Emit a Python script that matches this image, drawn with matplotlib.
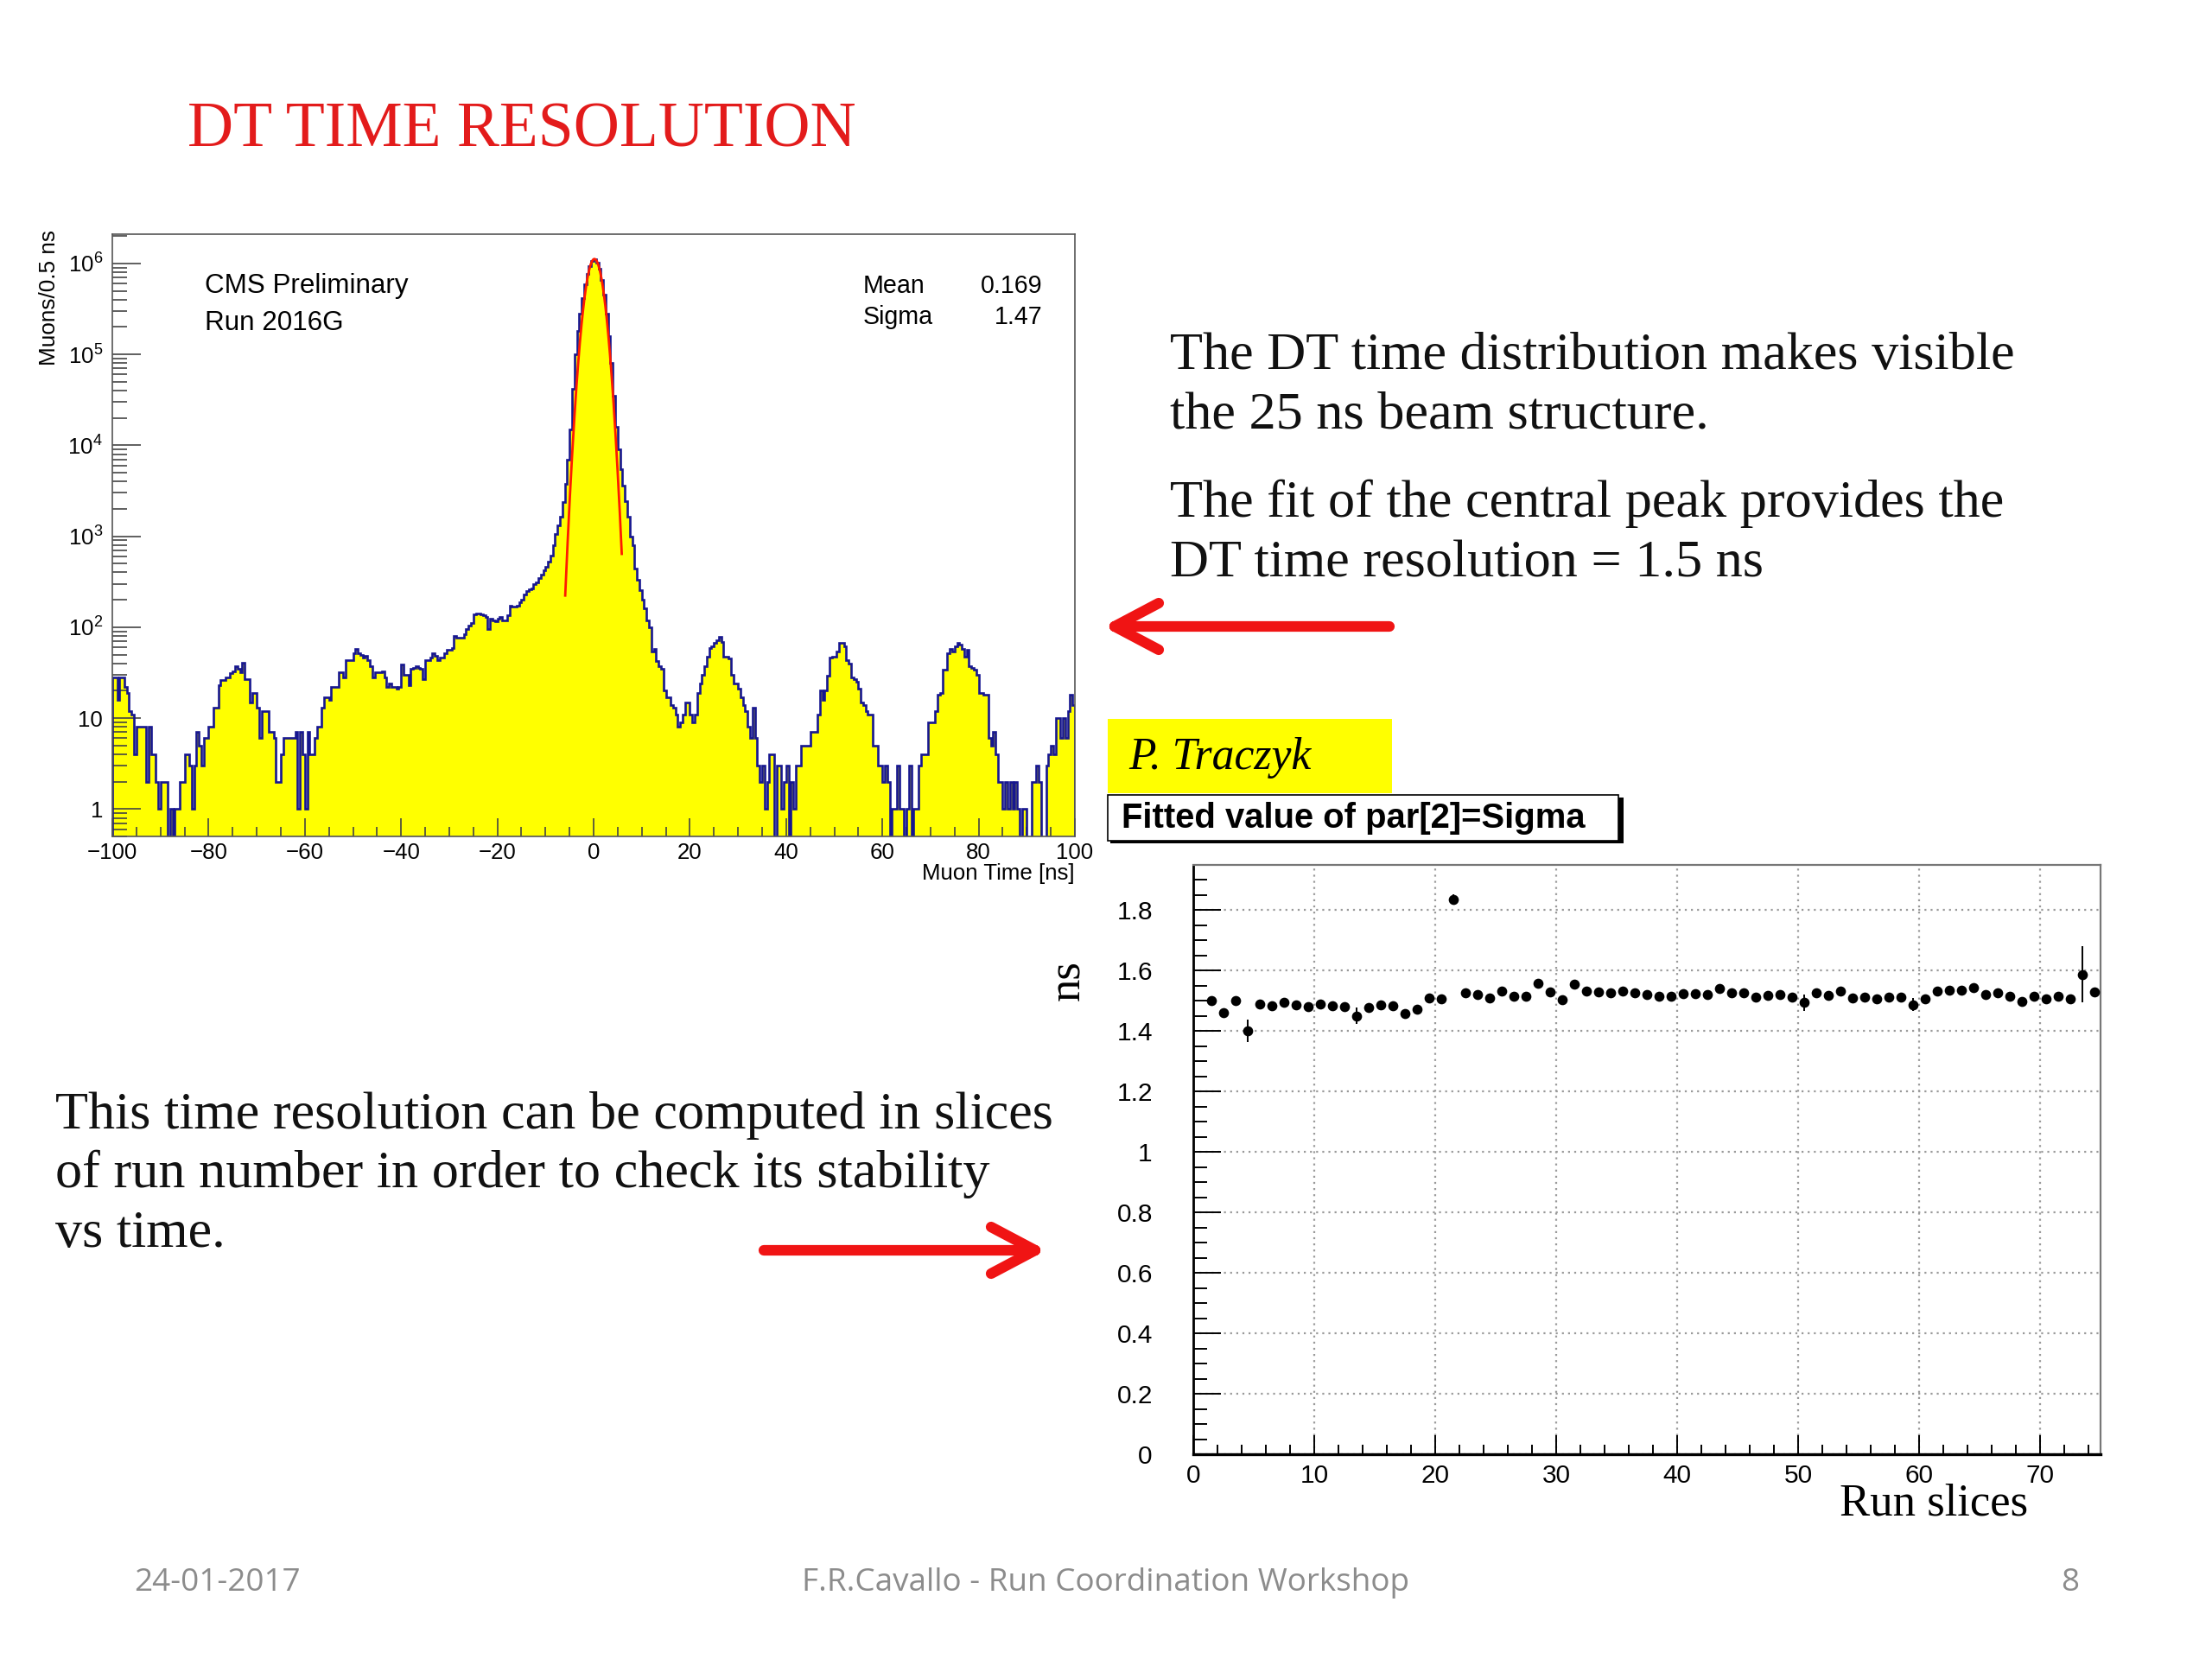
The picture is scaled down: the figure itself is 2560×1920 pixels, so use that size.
import numpy as np
import matplotlib
matplotlib.use("Agg")
import matplotlib.pyplot as plt
from matplotlib.ticker import (FixedLocator, FixedFormatter, NullFormatter,
                               MultipleLocator, FuncFormatter, LogLocator)
from matplotlib.patches import Rectangle
from matplotlib.lines import Line2D

plt.rcParams['font.family'] = ['Liberation Sans', 'DejaVu Sans']
plt.rcParams['mathtext.fontset'] = 'custom'
plt.rcParams['mathtext.rm'] = 'Liberation Sans'
plt.rcParams['mathtext.it'] = 'Liberation Sans:italic'

# ---------------- data ----------------
hist_range = (-100.0, 100.0)          # Muon Time [ns], 0.5 ns bins
muon_counts = [
    # -100 .. -47.5
    28, 28, 16, 28, 28, 22, 19, 12, 11, 4,
    8, 8, 8, 8, 2, 8, 4, 4, 2, 1,
    2, 2, 2, 0, 1, 0, 1, 1, 2, 2,
    4, 4, 3, 1, 3, 7, 5, 3, 6, 6,
    8, 8, 13, 13, 23, 26, 26, 28, 28, 31,
    33, 37, 35, 32, 41, 27, 27, 15, 19, 19,
    13, 6, 12, 12, 12, 7, 7, 6, 2, 2,
    4, 6, 6, 6, 6, 6, 7, 1, 7, 4,
    1, 7, 4, 4, 6, 8, 8, 13, 17, 17,
    16, 22, 22, 22, 32, 32, 28, 43, 43, 43,
    52, 58, 52, 50, 46, 48,
    # -47 .. -6.5
    43, 37, 28, 32,
    32, 32, 33, 28, 22, 24, 22, 22, 21, 22,
    39, 30, 30, 23, 35, 36, 37, 36, 35, 27,
    43, 43, 46, 52, 48, 43, 46, 46, 52, 57,
    57, 59, 80, 77, 77, 77, 83, 96, 103, 111,
    139, 143, 143, 139, 134, 130, 96, 124, 120, 116,
    124, 130, 120, 120, 134, 172, 167, 167, 172, 186,
    200, 230, 250, 260, 265, 296, 310, 345, 380, 425,
    460, 530, 610, 790, 1060, 1320, 1650, 2400,
    # -6 .. 6
    3800, 7000,
    15000, 42000, 100000, 180000, 280000, 420000, 590000, 760000, 930000, 1070000,
    1120000, 1020000, 870000, 660000, 450000, 280000, 160000, 80000, 35000, 16000,
    9000, 5500, 3600,
    # 6.5 .. 53.5
    2450, 1650, 1000, 800, 445, 330, 257,
    200, 162, 120, 100, 54, 58, 42, 37, 35, 20,
    17, 17, 14, 13, 11, 8, 9, 11, 15, 15,
    11, 9, 11, 19, 24, 30, 37, 47, 59, 62,
    67, 72, 79, 69, 47, 47, 45, 30, 24, 24,
    21, 17, 14, 12, 8, 6, 13, 6, 3, 2,
    3, 1, 2, 4, 4, 0, 3, 3, 1, 2,
    3, 0, 2, 1, 3, 3, 5, 5, 5, 5,
    7, 7, 7, 11, 20, 16, 20, 29, 46, 47,
    47, 54, 67, 67, 62, 43, 40, 28,
    # 54 .. 99.5
    27, 25,
    21, 15, 14, 12, 11, 11, 5, 5, 3, 3,
    2, 3, 2, 0, 1, 1, 3, 1, 1, 0,
    1, 3, 0, 1, 1, 3, 4, 4, 4, 9,
    9, 9, 12, 18, 19, 34, 34, 52, 58, 54,
    62, 67, 65, 58, 47, 56, 37, 36, 34, 30,
    19, 19, 18, 18, 6, 5, 7, 4, 2, 2,
    1, 2, 1, 2, 1, 2, 1, 0, 1, 1,
    0, 0, 2, 2, 3, 2, 0, 0, 3, 4,
    5, 4, 10, 10, 6, 10, 6, 12, 18, 14,
]
fit_mean = 0.169
fit_sigma = 1.47
fit_constant = 1.12e6
fit_range = (-5.9, 5.85)

run_slices = list(range(1, 75))   # slice i drawn at its bin centre i + 0.5
sigma_ns = [
    1.502, 1.460, 1.502, 1.400, 1.491, 1.484, 1.495, 1.487, 1.480, 1.490,
    1.484, 1.480, 1.450, 1.479, 1.486, 1.485, 1.459, 1.472, 1.509, 1.508,
    1.836, 1.527, 1.521, 1.509, 1.533, 1.515, 1.515, 1.558, 1.530, 1.504,
    1.556, 1.533, 1.531, 1.527, 1.533, 1.527, 1.520, 1.516, 1.516, 1.524,
    1.524, 1.520, 1.540, 1.528, 1.527, 1.513, 1.517, 1.520, 1.513, 1.494,
    1.526, 1.518, 1.533, 1.511, 1.513, 1.507, 1.512, 1.512, 1.488, 1.507,
    1.532, 1.534, 1.535, 1.543, 1.522, 1.526, 1.515, 1.498, 1.514, 1.507,
    1.514, 1.507, 1.588, 1.531,
]
sigma_err = [
    0.006, 0.012, 0.006, 0.037, 0.006, 0.006, 0.006, 0.006, 0.006, 0.006,
    0.006, 0.006, 0.027, 0.006, 0.006, 0.006, 0.010, 0.006, 0.006, 0.006,
    0.018, 0.006, 0.006, 0.006, 0.006, 0.006, 0.006, 0.006, 0.006, 0.006,
    0.006, 0.006, 0.006, 0.006, 0.006, 0.006, 0.006, 0.006, 0.006, 0.006,
    0.006, 0.006, 0.006, 0.006, 0.006, 0.006, 0.006, 0.006, 0.006, 0.028,
    0.006, 0.006, 0.006, 0.006, 0.006, 0.006, 0.006, 0.006, 0.022, 0.006,
    0.006, 0.006, 0.006, 0.006, 0.006, 0.006, 0.006, 0.006, 0.006, 0.006,
    0.006, 0.006, 0.094, 0.008,
]

# ---------------- figure ----------------
W, H = 2560, 1920
fig = plt.figure(figsize=(W / 200, H / 200), dpi=200)
fig.patch.set_facecolor('white')


def fx(x):
    return x / W


def fy(y):
    return 1 - y / H


def ftext(x, y, s, **kw):
    return fig.text(fx(x), fy(y), s, **kw)


# ---------- histogram ----------
L1, R1, T1, B1 = 130, 1244, 271, 968
ax1 = fig.add_axes([fx(L1), fy(B1), (R1 - L1) / W, (B1 - T1) / H])
counts = np.array(muon_counts, dtype=float)
edges = np.linspace(hist_range[0], hist_range[1], len(counts) + 1)
plot_counts = np.where(counts > 0, counts, 1e-3)
ax1.stairs(plot_counts, edges, fill=True, color='#ffff00', baseline=1e-3, zorder=1)
ax1.stairs(plot_counts, edges, color='#16168f', lw=0.95, baseline=1e-3, zorder=2)
tf = np.linspace(fit_range[0], fit_range[1], 400)
ax1.plot(tf, fit_constant * np.exp(-0.5 * ((tf - fit_mean) / fit_sigma) ** 2),
         color='#ff1a00', lw=1.0, zorder=3)
ax1.set_yscale('log')
ax1.set_xlim(*hist_range)
ax1.set_ylim(0.5, 2.1e6)
ax1.xaxis.set_major_locator(MultipleLocator(20))
ax1.xaxis.set_minor_locator(MultipleLocator(5))
ax1.yaxis.set_major_locator(FixedLocator([1, 10, 1e2, 1e3, 1e4, 1e5, 1e6]))
ax1.yaxis.set_major_formatter(FixedFormatter(
    ['1', '10', r'$10^{2}$', r'$10^{3}$', r'$10^{4}$', r'$10^{5}$', r'$10^{6}$']))
ax1.yaxis.set_minor_locator(LogLocator(base=10, subs=np.arange(2, 10)))
ax1.yaxis.set_minor_formatter(NullFormatter())
ax1.tick_params(which='both', direction='in', top=False, right=False,
                color='#444444', width=0.6)
ax1.tick_params(axis='x', which='major', length=7.5, labelsize=9.3, pad=2.5)
ax1.tick_params(axis='x', which='minor', length=4)
ax1.tick_params(axis='y', which='major', length=12, labelsize=9.3, pad=4)
ax1.tick_params(axis='y', which='minor', length=6)
for sp in ax1.spines.values():
    sp.set_color('#555555')
    sp.set_linewidth(0.6)

ftext(57, 266, 'Muons/0.5 ns', rotation=90, ha='center', va='top', fontsize=9.4)
ftext(R1, 1011, 'Muon Time [ns]', ha='right', va='center', fontsize=9.3)
ftext(237, 331, 'CMS Preliminary', ha='left', va='center', fontsize=11.3)
ftext(237, 374, 'Run 2016G', ha='left', va='center', fontsize=11.3)
ftext(999, 331, 'Mean', ha='left', va='center', fontsize=10.3)
ftext(1207, 331, '0.169', ha='right', va='center', fontsize=10.3)
ftext(999, 367, 'Sigma', ha='left', va='center', fontsize=10.3)
ftext(1207, 367, '1.47', ha='right', va='center', fontsize=10.3)

# ---------- sigma vs run slice ----------
L2, R2, T2, B2 = 1381, 2431, 1001, 1683
ax2 = fig.add_axes([fx(L2), fy(B2), (R2 - L2) / W, (B2 - T2) / H])
xs = np.array(run_slices) + 0.5
ax2.errorbar(xs, sigma_ns, yerr=sigma_err, fmt='o', ms=3.2, color='black',
             ecolor='black', elinewidth=0.7, capsize=0, zorder=3)
ax2.set_xlim(0, 75)
ax2.set_ylim(0, 1.95)
ax2.xaxis.set_major_locator(MultipleLocator(10))
ax2.xaxis.set_minor_locator(MultipleLocator(2))
ax2.yaxis.set_major_locator(MultipleLocator(0.2))
ax2.yaxis.set_minor_locator(MultipleLocator(0.05))
ax2.yaxis.set_major_formatter(FuncFormatter(lambda v, p: '%g' % round(v, 2)))
ax2.grid(True, which='major', linestyle=(0, (1, 2.2)), color='#9a9a9a', lw=0.8)
ax2.set_axisbelow(True)
ax2.tick_params(which='both', direction='in', top=False, right=False, width=0.7)
ax2.tick_params(axis='x', which='major', length=8, labelsize=10.7, pad=4)
ax2.tick_params(axis='x', which='minor', length=4)
ax2.tick_params(axis='y', which='major', length=11.5, labelsize=10.7, pad=17)
ax2.tick_params(axis='y', which='minor', length=5.8)
ax2.spines['left'].set_linewidth(1.0)
ax2.spines['bottom'].set_linewidth(1.2)
ax2.spines['top'].set_color('#777777')
ax2.spines['right'].set_color('#777777')
ax2.spines['top'].set_linewidth(0.8)
ax2.spines['right'].set_linewidth(0.8)

ftext(1236, 1135, 'ns', rotation=90, ha='center', va='center', fontsize=19,
      family='Liberation Serif')
ftext(2347, 1741, 'Run slices', ha='right', va='center', fontsize=19,
      family='Liberation Serif')

# yellow author box and ROOT title box
fig.add_artist(Rectangle((fx(1282), fy(918)), (1611 - 1282) / W, (918 - 832) / H,
                         transform=fig.transFigure, facecolor='#ffff00',
                         edgecolor='none', zorder=5))
ftext(1306, 877, 'P. Traczyk', ha='left', va='center', fontsize=18.6,
      family='Liberation Serif', style='italic', zorder=6)
fig.add_artist(Rectangle((fx(1285), fy(976)), (1876 - 1282) / W, (973 - 920) / H,
                         transform=fig.transFigure, facecolor='black',
                         edgecolor='none', zorder=5))
fig.add_artist(Rectangle((fx(1282), fy(973)), (1873 - 1282) / W, (973 - 920) / H,
                         transform=fig.transFigure, facecolor='white',
                         edgecolor='black', lw=0.6, zorder=6))
ftext(1298, 947, 'Fitted value of par[2]=Sigma', ha='left', va='center',
      fontsize=14.4, fontweight='bold', zorder=7)


# ---------- red arrows ----------
def arrow(tail_x, tip_x, y, direction):
    red = '#f01414'
    lw = 4.4
    fig.add_artist(Line2D([fx(tail_x), fx(tip_x)], [fy(y), fy(y)], color=red, lw=lw,
                          solid_capstyle='round', transform=fig.transFigure))
    back = tip_x - direction * 51
    for dy in (-27, 27):
        fig.add_artist(Line2D([fx(tip_x), fx(back)], [fy(y), fy(y + dy)], color=red,
                              lw=lw, solid_capstyle='round', transform=fig.transFigure))


arrow(1608, 1290, 725, -1)
arrow(884, 1198, 1447, 1)

# ---------- slide text ----------
ftext(217, 169, 'DT TIME RESOLUTION', ha='left', va='baseline', fontsize=26.5,
      family='Liberation Serif', color='#e31b1b')

body = dict(ha='left', va='baseline', fontsize=22.4, family='Liberation Serif',
            color='#111111')
ftext(1354, 427, 'The DT time distribution makes visible', **body)
ftext(1354, 496, 'the 25 ns beam structure.', **body)
ftext(1354, 598, 'The fit of the central peak provides the', **body)
ftext(1354, 667, 'DT time resolution = 1.5 ns', **body)

ftext(64, 1306, 'This time resolution can be computed in slices', **body)
ftext(64, 1374, 'of run number in order to check its stability', **body)
ftext(64, 1443, 'vs time.', **body)

foot = dict(va='center', fontsize=13.3, family='Open Sans', color='#8c8c8c')
ftext(155, 1832, '24-01-2017', ha='left', **foot)
ftext(1279, 1832, 'F.R.Cavallo - Run Coordination Workshop', ha='center', **foot)
ftext(2396, 1832, '8', ha='center', **foot)

fig.savefig('out.png', dpi=200)
